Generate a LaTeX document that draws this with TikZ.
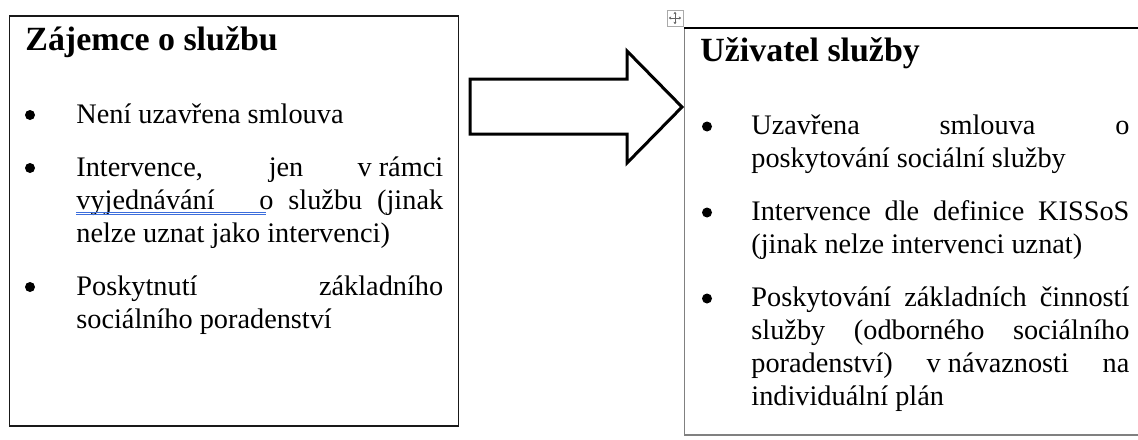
\documentclass[tikz,border=0pt]{standalone}
\usepackage{fontspec}
\setmainfont{Liberation Serif}
\usetikzlibrary{arrows.meta}
\newcommand{\jl}[1]{\makebox[183.4pt][s]{#1}}
\newcommand{\jr}[1]{\makebox[189pt][s]{#1}}
\definecolor{gridgray}{RGB}{128,128,128}
\definecolor{wordblue}{RGB}{60,110,220}
\definecolor{iconborder}{RGB}{170,170,170}
\definecolor{icongray}{RGB}{100,100,100}
\tikzset{
  body/.style={anchor=base west, inner sep=0pt, font=\fontsize{14.15pt}{16.5pt}\selectfont},
  ttl/.style={anchor=base west, inner sep=0pt, font=\bfseries\fontsize{16.95pt}{20pt}\selectfont},
  bul/.style={fill=black},
  handle/.style={icongray, line width=0.35pt, -{Stealth[length=1.2pt,width=1.6pt]}},
}
\begin{document}
\begin{tikzpicture}[x=0.5pt,y=-0.5pt]
\useasboundingbox (0,0) rectangle (1138,439);
\clip (0,0) rectangle (1138,439);
\fill[white] (0,0) rectangle (1138,439);

% left box
\draw[line width=0.8pt, draw={rgb,255:red,25;green,25;blue,25}] (9.5,15.7) rectangle (458.3,426);
\node[ttl] (tl) at (25,50) {Zájemce o službu};

\fill[bul] (30,115) circle (5);
\node[body] (l1) at (76,123) {Není uzavřena smlouva};
\fill[bul] (30,168) circle (5);
\node[body] (l2) at (76,176) {\jl{Intervence, jen \mbox{v rámci}}};
\node[body] (l3) at (76,209) {\jl{vyjednávání\ \ \ o službu (jinak}};
\node[body] (l4) at (76,242) {nelze uznat jako intervenci)};
\fill[bul] (30,287) circle (5);
\node[body] (l5) at (76,295) {\jl{Poskytnutí základního}};
\node[body] (l6) at (76,328) {sociálního poradenství};
\draw[wordblue, line width=0.35pt] (76,212.4) -- (265.7,212.4);
\draw[wordblue, line width=0.35pt] (76,214.4) -- (265.7,214.4);

% block arrow
\draw[line width=1.5pt, line join=miter, fill=white]
  (470,79) -- (627,79) -- (627,51) -- (682,107) -- (627,163) -- (627,134) -- (470,134) -- cycle;

% move handle icon
\draw[iconborder, line width=0.5pt, fill=white] (667,10) rectangle (683,26);
\coordinate (hc) at (675,18);
\coordinate (hn) at (675,11.8);
\coordinate (hs) at (675,24.2);
\coordinate (hw) at (668.8,18);
\coordinate (he) at (681.2,18);
\draw[handle] (hc) -- (hn);
\draw[handle] (hc) -- (hs);
\draw[handle] (hc) -- (hw);
\draw[handle] (hc) -- (he);

% right box
\draw[gridgray, line width=0.7pt] (684.3,27.7) -- (684.3,434.8) -- (1145,434.8);
\draw[black, line width=1.15pt] (683.8,27.7) -- (1145,27.7);
\node[ttl] (tr) at (700,61) {Uživatel služby};

\fill[bul] (707,126.5) circle (5);
\node[body] (r1) at (751,134) {\jr{Uzavřena smlouva o}};
\node[body] (r2) at (751,167) {poskytování sociální služby};
\fill[bul] (707,212.5) circle (5);
\node[body] (r3) at (751,220) {\jr{Intervence dle definice KISSoS}};
\node[body] (r4) at (751,253) {(jinak nelze intervenci uznat)};
\fill[bul] (707,298.5) circle (5);
\node[body] (r5) at (751,306) {\jr{Poskytování základních činností}};
\node[body] (r6) at (751,339) {\jr{služby (odborného sociálního}};
\node[body] (r7) at (751,372) {\jr{poradenství) \mbox{v návaznosti} na}};
\node[body] (r8) at (751,405) {individuální plán};
\end{tikzpicture}
\end{document}
